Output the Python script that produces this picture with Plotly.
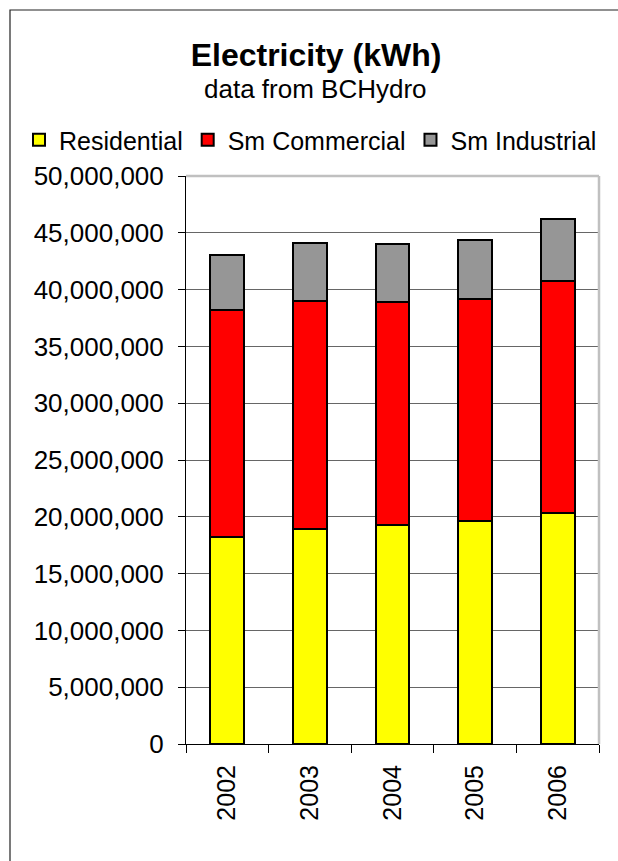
import plotly.graph_objects as go

# Annual electricity consumption by customer class (kWh)
years = ["2002", "2003", "2004", "2005", "2006"]
residential = [18250000, 18930000, 19280000, 19630000, 20310000]
sm_commercial = [19930000, 20070000, 19660000, 19570000, 20420000]
sm_industrial = [4870000, 5070000, 5070000, 5190000, 5470000]

series_names = ["Residential", "Sm Commercial", "Sm Industrial"]
series_colors = ["#FFFF00", "#FF0000", "#969696"]
y_ticks = [0, 5000000, 10000000, 15000000, 20000000, 25000000,
           30000000, 35000000, 40000000, 45000000, 50000000]

FONT = "Liberation Sans, Arial, sans-serif"
W, H = 618, 861
L, R, T, B = 186, 19, 176, 117
PW, PH = W - L - R, H - T - B


def px_x(px):
    return (px - L) / PW


def px_y(py):
    return (H - B - py) / PH


fig = go.Figure()
for name, vals, col in zip(series_names, [residential, sm_commercial, sm_industrial], series_colors):
    fig.add_trace(go.Bar(
        x=years, y=vals, name=name,
        marker=dict(color=col, line=dict(color="#000000", width=2)),
    ))

fig.update_layout(
    width=W, height=H,
    barmode="stack", bargap=0.59,
    paper_bgcolor="white", plot_bgcolor="white",
    margin=dict(l=L, r=R, t=T, b=B, autoexpand=False),
    font=dict(family=FONT, size=25, color="black"),
    title=dict(
        text="<b>Electricity (kWh)</b>",
        font=dict(family=FONT, size=32, color="black"),
        x=316 / W, xanchor="center", xref="container",
        y=1 - 55 / H, yanchor="middle", yref="container",
    ),
    legend=dict(
        orientation="h", x=px_x(19), xanchor="left", xref="paper",
        y=px_y(140), yanchor="middle", yref="paper",
        font=dict(family=FONT, size=25, color="black"),
        itemwidth=30, bgcolor="rgba(0,0,0,0)",
        traceorder="normal",
    ),
    showlegend=True,
)

# Subtitle under the title
fig.add_annotation(
    text="data from BCHydro", showarrow=False,
    xref="paper", yref="paper", x=px_x(315), y=px_y(89),
    xanchor="center", yanchor="middle",
    font=dict(family=FONT, size=26, color="black"),
)

fig.update_xaxes(
    type="category", tickangle=-90, tickson="boundaries",
    ticks="outside", ticklen=8, tickcolor="black", tickwidth=1,
    showline=True, linecolor="black", linewidth=1,
    showgrid=False, ticklabelstandoff=10,
    tickfont=dict(family=FONT, size=25, color="black"),
)
fig.update_yaxes(
    range=[0, 50000000], tickvals=y_ticks, tickformat=",d",
    ticks="outside", ticklen=7, tickcolor="black", tickwidth=1,
    showline=True, linecolor="black", linewidth=1,
    showgrid=True, gridcolor="#666666", gridwidth=1,
    zeroline=False, ticklabelstandoff=9,
    tickfont=dict(family=FONT, size=26, color="black"),
)

# Light grey frame on the top and right of the plot area
fig.add_shape(type="line", xref="paper", yref="paper", x0=0, x1=1, y0=1, y1=1,
              line=dict(color="#C0C0C0", width=2.5), layer="above")
fig.add_shape(type="line", xref="paper", yref="paper", x0=1, x1=1, y0=0, y1=1,
              line=dict(color="#C0C0C0", width=2.5), layer="above")

# Outer chart border
fig.add_shape(type="rect", xref="paper", yref="paper",
              x0=px_x(10), x1=px_x(640), y0=px_y(900), y1=px_y(10),
              line=dict(color="#222222", width=1.2), fillcolor="rgba(0,0,0,0)",
              layer="above")

fig.write_html("out.html")
